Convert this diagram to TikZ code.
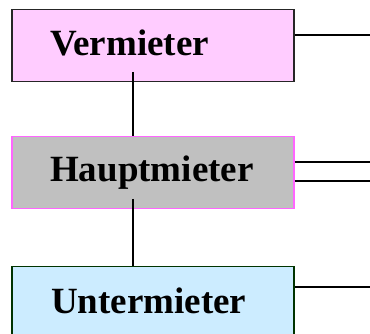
\documentclass[tikz,border=0pt]{standalone}
\usepackage{fontspec}
\setmainfont{Liberation Serif}
\definecolor{vfill}{HTML}{FFCCFF}
\definecolor{hfill}{HTML}{C0C0C0}
\definecolor{hdraw}{HTML}{FF66FF}
\definecolor{ufill}{HTML}{CCECFF}
\definecolor{udraw}{HTML}{003300}
\begin{document}
\begin{tikzpicture}[x=1pt,y=-1pt,
  box/.style={rectangle, minimum width=282pt, minimum height=72pt, anchor=north west, inner sep=0pt, line width=1.5pt},
  lbl/.style={anchor=base west, inner sep=0pt, font=\fontsize{37}{40}\selectfont\bfseries},
  conn/.style={line width=1.5pt, black}]
\useasboundingbox (0,0) rectangle (370,334);
\node[box, draw=black!85, fill=vfill] (V) at (11,9) {};
\node[box, draw=hdraw, fill=hfill] (H) at (11,136) {};
\node[box, draw=udraw, fill=ufill, minimum height=74pt] (U) at (11,266) {};
\node[lbl] (Vt) at (50,56) {Vermieter};
\node[lbl] (Ht) at (50,182) {Hauptmieter};
\node[lbl] (Ut) at (51,313) {Untermieter};
\coordinate (v1) at (133,72);
\coordinate (h1) at (133,199);
\draw[conn] (v1) -- (v1 |- H.north);
\draw[conn] (h1) -- (h1 |- U.north);
\coordinate (ve) at (370,35);
\coordinate (he1) at (370,162);
\coordinate (he2) at (370,181);
\coordinate (ue) at (370,287);
\draw[conn] (V.east |- ve) -- (ve);
\draw[conn] (H.east |- he1) -- (he1);
\draw[conn] (H.east |- he2) -- (he2);
\draw[conn] (U.east |- ue) -- (ue);
\end{tikzpicture}
\end{document}
